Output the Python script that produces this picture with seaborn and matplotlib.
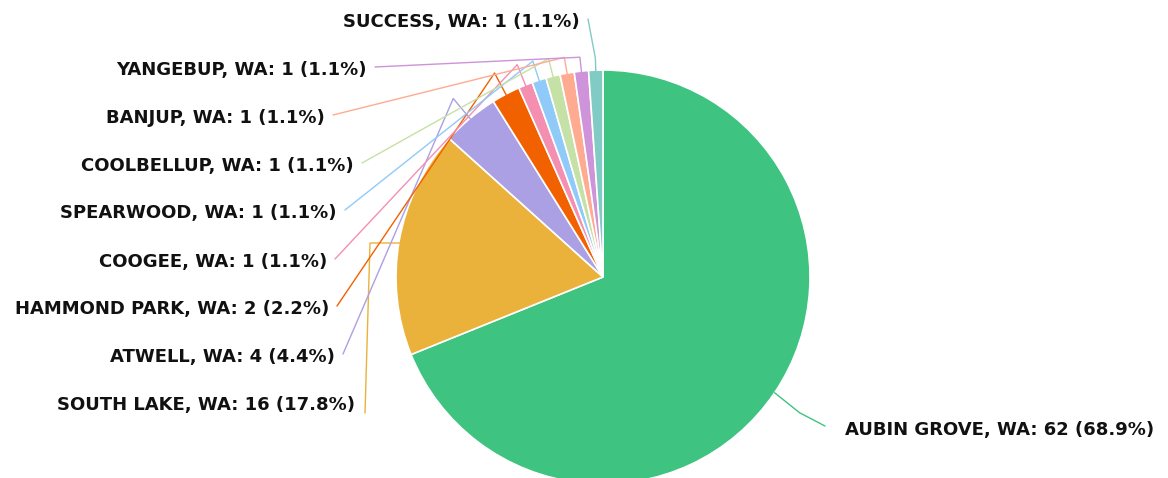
import numpy as np
import seaborn as sns
import matplotlib.pyplot as plt

suburbs = ["AUBIN GROVE, WA", "SOUTH LAKE, WA", "ATWELL, WA", "HAMMOND PARK, WA",
           "COOGEE, WA", "SPEARWOOD, WA", "COOLBELLUP, WA", "BANJUP, WA",
           "YANGEBUP, WA", "SUCCESS, WA"]
counts = [62, 16, 4, 2, 1, 1, 1, 1, 1, 1]
colors = ["#3FC380", "#EBB23B", "#ABA0E3", "#F26100", "#F48FB1",
          "#90CAF9", "#C5E1A5", "#FFAB91", "#CE93D8", "#80CBC4"]

# label anchor positions in pixels (x of text edge, y of text centre)
label_pos = [(845, 430), (355, 405), (335, 357), (329, 309), (327, 262),
             (337, 213), (354, 166), (325, 118), (367, 70), (580, 22)]

W, H = 1168, 478
cx, cy, r = 603, 277, 207

sns.set_theme(style="white")
plt.rcParams['font.family'] = ['DejaVu Sans']

fig = plt.figure(figsize=(W / 100, H / 100), dpi=100)
ax = fig.add_axes([0, 0, 1, 1])
ax.set_xlim(0, W)
ax.set_ylim(0, H)
ax.set_aspect('equal')
ax.axis('off')

ax.pie(counts, colors=colors, startangle=90, counterclock=False,
       center=(cx, H - cy), radius=r,
       wedgeprops=dict(edgecolor='white', linewidth=1.2))
ax.set_xlim(0, W)
ax.set_ylim(0, H)

total = sum(counts)
cum = np.cumsum([0] + counts)
for i, (name, n) in enumerate(zip(suburbs, counts)):
    mid = (cum[i] + cum[i + 1]) / 2 / total * 360
    ang = np.deg2rad(mid)
    dx, dy = np.sin(ang), np.cos(ang)
    lx, ly = label_pos[i]
    text = f"{name}: {n} ({n / total * 100:.1f}%)"
    if i == 0:
        ex, ey = cx + dx * r, H - cy + dy * r
        ax.plot([ex, ex + 25, lx - 20], [ey, ey - 20, H - ly + 4],
                color=colors[i], lw=1)
        ax.text(lx, H - ly, text, ha='left', va='center',
                fontsize=13, fontweight='bold', color='#111111')
    elif i == 1:
        ex, ey = cx + dx * r * 0.99, H - cy + dy * r * 0.99
        ax.plot([lx + 10, lx + 15, ex], [H - ly - 8, H - 243, H - 243],
                color=colors[i], lw=1)
        ax.text(lx, H - ly, text, ha='right', va='center',
                fontsize=13, fontweight='bold', color='#111111')
    else:
        ex, ey = cx + dx * r * 0.97, H - cy + dy * r * 0.97
        k = 12 + 2 * (9 - i)
        bx, by = cx + dx * (r + k), H - cy + dy * (r + k)
        ax.plot([lx + 8, bx, ex], [H - ly + 3, by, ey], color=colors[i], lw=1)
        ax.text(lx, H - ly, text, ha='right', va='center',
                fontsize=13, fontweight='bold', color='#111111')

fig.savefig("out.png", dpi=100)
